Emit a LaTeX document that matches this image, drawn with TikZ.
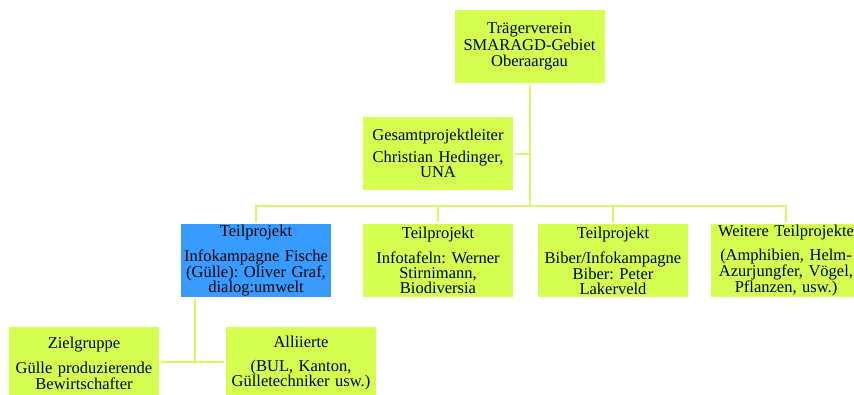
\documentclass[tikz,border=0pt]{standalone}
\usepackage{fontspec}
\setmainfont{Liberation Serif}
\frenchspacing
\definecolor{lime}{RGB}{212,255,80}
\definecolor{limeline}{RGB}{214,250,95}
\definecolor{fishblue}{RGB}{56,155,255}
\tikzset{
  box/.style={fill=lime, minimum width=148pt, minimum height=73pt, text width=150pt,
    align=center, inner sep=0pt, font=\fontsize{16.5}{15}\selectfont},
  topbox/.style={box, font=\fontsize{16.5}{16.5}\selectfont},
  bluebox/.style={box, fill=fishblue},
  link/.style={draw=limeline, line width=2pt}
}
\begin{document}
\begin{tikzpicture}[x=1pt,y=-1pt]
    \useasboundingbox (0,0) rectangle (854,394);
    % Boxes
    \node[topbox] (traeger) at (529.5,46.5) {Trägerverein\\SMARAGD-Gebiet\\Oberaargau};
    \node[box] (leiter) at (438,153.5) {Gesamtprojektleiter\\[7pt]Christian Hedinger,\\UNA};
    \node[bluebox] (fische) at (256,260.5) {Teilprojekt\\[9pt]Infokampagne Fische\\(Gülle): Oliver Graf,\\dialog:umwelt};
    \node[box] (tafeln) at (438,260.5) {Teilprojekt\\[9pt]Infotafeln: Werner\\Stirnimann,\\Biodiversia};
    \node[box] (biber) at (613,260.5) {Teilprojekt\\[9pt]Biber/Infokampagne\\Biber: Peter\\Lakerveld};
    \node[box] (weitere) at (786,260.5) {Weitere Teilprojekte\\[9pt](Amphibien, Helm-\\Azurjungfer, Vögel,\\Pflanzen, usw.)};
    \node[box] (ziel) at (84,363.5) {Zielgruppe\\[9pt]Gülle produzierende\\Bewirtschafter};
    \node[box] (allierte) at (301,363.5) {Alliierte\\[9pt](BUL, Kanton,\\Gülletechniker usw.)};

    % Connectors
    \coordinate (bus) at (529.5,206);
    \coordinate (fork) at (195,362);
    \draw[link, shorten <=2pt] (traeger.south) -- (bus);
    \draw[link, shorten <=2pt] (leiter.east) -- (leiter.east -| bus);
    \draw[link, shorten <=2pt, shorten >=2pt] (fische.north) |- (bus) -| (weitere.north);
    \draw[link, shorten >=2pt] (bus -| tafeln.north) -- (tafeln.north);
    \draw[link, shorten >=2pt] (bus -| biber.north) -- (biber.north);
    \draw[link, shorten <=2pt] (fische.south -| fork) -- (fork);
    \draw[link, shorten <=2pt, shorten >=2pt] (ziel.east |- fork) -- (allierte.west |- fork);
\end{tikzpicture}
\end{document}
